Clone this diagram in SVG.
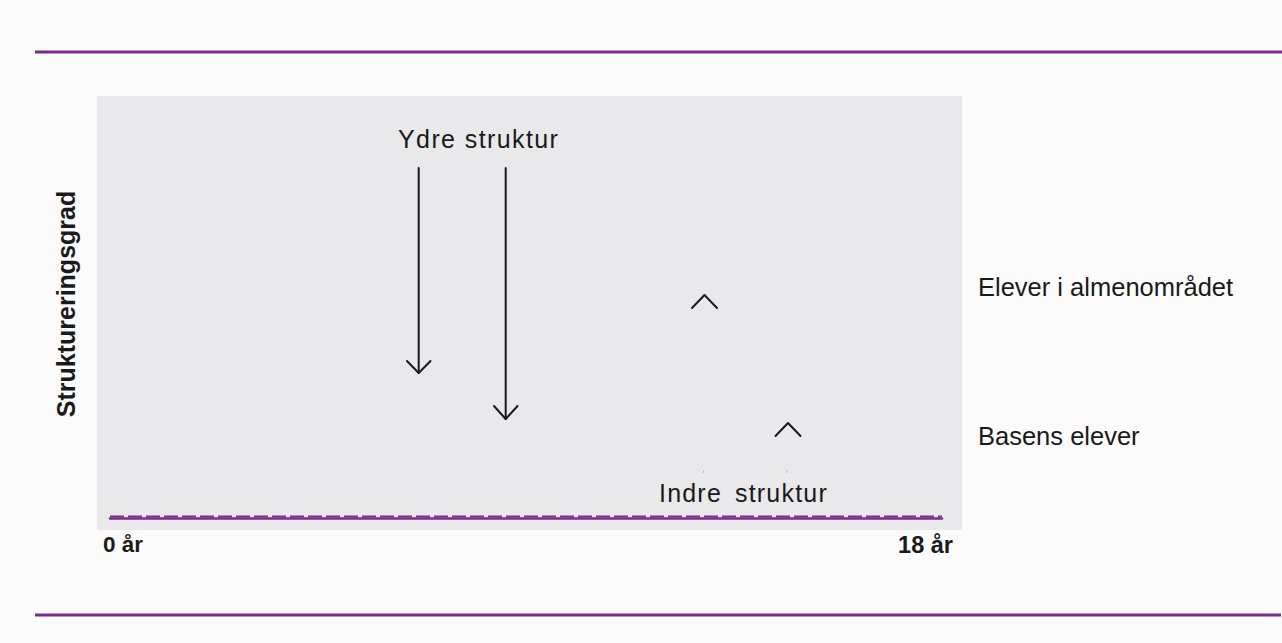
<svg xmlns="http://www.w3.org/2000/svg" width="1282" height="643" viewBox="0 0 1282 643">
  <style>
    .lbl { font-family: "Liberation Sans", Arial, sans-serif; fill: #1a1a1a; }
    .bold { font-weight: bold; }
    .rule { stroke: #7b2d8e; stroke-width: 3; fill: none; }
    .arrow { stroke: #1a1a1a; stroke-width: 2; fill: none; stroke-linecap: round; stroke-linejoin: round; }
  </style>
  <rect x="0" y="0" width="1282" height="643" fill="#fbfbfb"/>
  <line class="rule" x1="35" y1="52" x2="1282" y2="52"/>
  <line class="rule" x1="35" y1="615" x2="1281" y2="615"/>

  <g id="plot-area">
    <rect x="97" y="96" width="865" height="434" fill="#e9e9eb"/>
    <line x1="110" y1="518.5" x2="942" y2="518.5" stroke="#7b2d8e" stroke-width="2.5" stroke-linecap="round"/>
    <line x1="110" y1="516.5" x2="942" y2="516.5" stroke="#7b2d8e" stroke-width="2" stroke-dasharray="14 4"/>
  </g>

  <g id="y-axis-label">
    <text class="lbl bold" font-size="25" transform="translate(75,304) rotate(-90)" text-anchor="middle">Struktureringsgrad</text>
  </g>
  <g id="x-start-label">
    <text class="lbl bold" x="103" y="552" font-size="22.5">0 år</text>
  </g>
  <g id="x-end-label">
    <text class="lbl bold" x="953" y="553" font-size="23.5" text-anchor="end">18 år</text>
  </g>
  <g id="ydre-struktur">
    <text class="lbl" x="398" y="148" font-size="25" letter-spacing="1.4">Ydre struktur</text>
  </g>
  <g id="indre-struktur">
    <text class="lbl" y="502" font-size="25" letter-spacing="1.2"><tspan x="659">Indre</tspan><tspan x="735">struktur</tspan></text>
  </g>
  <g id="elever-almen">
    <text class="lbl" x="978" y="296" font-size="25.5">Elever i almenområdet</text>
  </g>
  <g id="basens-elever">
    <text class="lbl" x="978" y="445" font-size="25.5">Basens elever</text>
  </g>

  <g id="connectors">
    <line class="arrow" x1="418.7" y1="168" x2="418.7" y2="373"/>
    <polyline class="arrow" points="407,361 418.7,373 430.5,361"/>
    <line class="arrow" x1="505.7" y1="168" x2="505.7" y2="419"/>
    <polyline class="arrow" points="494,406 505.7,419 517.5,406"/>
    <polyline class="arrow" points="692,308 704.5,295 717,308"/>
    <polyline class="arrow" points="775.5,436 788,423 800.5,436"/>
    <line x1="704" y1="470" x2="703" y2="473" stroke="#b0b0b0" stroke-width="0.8"/>
    <line x1="787.5" y1="470" x2="786.5" y2="473" stroke="#b0b0b0" stroke-width="0.8"/>
  </g>
</svg>
